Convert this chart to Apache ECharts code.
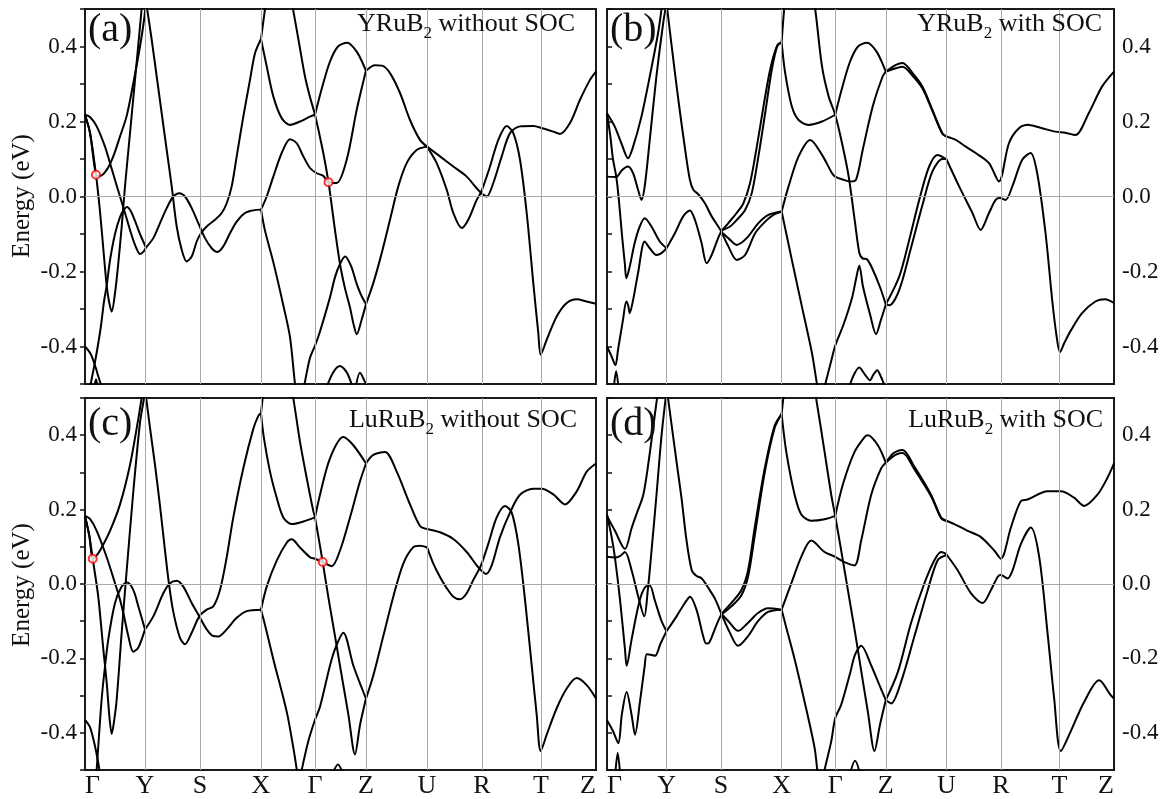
<!DOCTYPE html>
<html><head><meta charset="utf-8">
<script src="https://cdn.jsdelivr.net/npm/echarts@6/dist/echarts.min.js"></script>
<style>html,body{margin:0;padding:0;background:#fff}#c{width:1174px;height:799px}</style>
</head><body><div id="c"></div><script>
// high-symmetry path (k-distance, arbitrary units) and labels
const kTicks = [0,60,115,176,230,281,342,397,456,511];
const kLabels = ['Γ','Y','S','X','Γ','Z','U','R','T','Z'];
const eMin = -0.5, eMax = 0.5, eStep = 0.1;

// (a) YRuB2 without SOC : bands as [k, E(eV)]
const bandsA = [
 [[0,0.218],[5,0.17],[11,0.058],[15,-0.04],[19,-0.16],[21.7,-0.238],[24,-0.28],[26.7,-0.307],[30,-0.258],[33.3,-0.178],[36.7,-0.08],[40,0.027],[45,0.169],[50,0.311],[55,0.453],[58,0.54]],
 [[0,0.218],[5,0.17],[11,0.058],[15,0.055],[21.7,0.071],[28.3,0.107],[35,0.16],[41.7,0.215],[48.3,0.302],[55,0.4],[59,0.47],[61,0.52]],
 [[0,0.218],[5,0.212],[11.7,0.187],[20,0.133],[25,0.089],[30,0.044],[35,0.0],[40,-0.044],[45,-0.089],[50,-0.129],[55,-0.153],[58.5,-0.147],[61,-0.136]],
 [[4.5,-0.52],[5.7,-0.5],[10.7,-0.431],[15.7,-0.35],[19,-0.28],[21.7,-0.238],[25,-0.17],[30,-0.1],[35,-0.055],[39,-0.035],[42,-0.028],[46,-0.04],[50,-0.065],[55,-0.1],[61,-0.136]],
 [[0,-0.4],[5.7,-0.42],[10.7,-0.456],[13.3,-0.48],[15.7,-0.5],[16.5,-0.52]],
 [[8.5,-0.52],[11,-0.487],[13.5,-0.52]],
 [[61,0.52],[66.7,0.418],[71.7,0.32],[76.7,0.222],[81.7,0.124],[86.7,0.027],[91.7,-0.08],[96.7,-0.142],[101.7,-0.173],[106.7,-0.16],[111.7,-0.12],[116,-0.098],[121.7,-0.08],[130,-0.062],[136.7,-0.044],[141.7,-0.018],[146.7,0.027],[151.7,0.107],[158.3,0.213],[165,0.311],[170,0.382],[176,0.42]],
 [[61,-0.136],[68.3,-0.111],[75,-0.071],[81.7,-0.031],[88.3,0.0],[94.3,0.009],[100,0.0],[106.7,-0.031],[113.3,-0.071],[120,-0.111],[126.7,-0.138],[132.3,-0.148],[138.3,-0.133],[145,-0.098],[151.7,-0.067],[160,-0.044],[168.3,-0.037],[176,-0.035]],
 [[176,0.42],[180,0.5],[183,0.56]],
 [[176,0.42],[181.7,0.347],[188.3,0.267],[196.7,0.209],[205,0.191],[215,0.2],[225,0.213],[230,0.218]],
 [[230,0.218],[237,0.29],[245,0.36],[253,0.4],[262,0.41],[272,0.385],[281,0.335]],
 [[281,0.335],[290,0.35],[297,0.349],[305,0.329],[315,0.276],[325,0.204],[335,0.151],[342,0.133]],
 [[203,0.57],[208,0.5],[214,0.41],[220,0.32],[225,0.265],[230,0.218],[238,0.12],[243.5,0.038],[247,-0.03],[250,-0.09],[255,-0.18],[260,-0.245],[265,-0.296],[268.5,-0.34],[271.7,-0.367],[276.5,-0.33],[281,-0.287]],
 [[176,-0.035],[181.7,0.0],[188.3,0.053],[196.7,0.116],[205,0.153],[211.7,0.142],[218.3,0.107],[225,0.076],[231.7,0.062],[238.3,0.055],[243.5,0.038],[251.7,0.036],[261.7,0.098],[271.7,0.231],[281,0.336]],
 [[176,-0.035],[180,-0.091],[188.3,-0.175],[198.3,-0.29],[205,-0.375],[210,-0.5],[211.5,-0.52]],
 [[218,-0.52],[219.5,-0.5],[225,-0.43],[230,-0.398],[235,-0.36],[245,-0.269],[250,-0.215],[255,-0.18],[260,-0.16],[266,-0.185],[271.7,-0.233],[276,-0.262],[281,-0.287]],
 [[240,-0.52],[248,-0.47],[255,-0.452],[262,-0.47],[269,-0.52]],
 [[270,-0.52],[275,-0.47],[280,-0.495],[284,-0.52]],
 [[281,-0.287],[288.3,-0.231],[296.7,-0.151],[305,-0.062],[313.3,0.027],[321.7,0.089],[331.7,0.124],[342,0.133]],
 [[342,0.133],[355,0.107],[368.3,0.08],[381.7,0.053],[391.7,0.022],[396.3,0.009],[401.7,0.0],[408.3,0.036],[416.7,0.107],[425,0.169],[435,0.187],[448.3,0.188],[457.3,0.182],[468.3,0.173],[475,0.167],[485,0.196],[495,0.258],[505,0.311],[511,0.333]],
 [[342,0.133],[351.7,0.089],[361.7,0.018],[368.3,-0.044],[376.7,-0.084],[383.3,-0.062],[391.7,-0.009],[396.3,0.013],[405,0.08],[413.3,0.151],[421.7,0.188],[428.3,0.169],[435,0.098],[441.7,-0.044],[448.3,-0.231],[453.3,-0.364],[455.7,-0.422],[461.7,-0.382],[471.7,-0.32],[481.7,-0.284],[491.7,-0.274],[501.7,-0.28],[511,-0.286]]
];

// (b) YRuB2 with SOC
const bandsB = [
 [[0,0.222],[7.7,0.187],[14.5,0.142],[21.2,0.102],[26.3,0.133],[34.7,0.213],[43.1,0.32],[51.5,0.436],[54.9,0.498],[57,0.54]],
 [[0,0.053],[9.4,0.052],[15,0.07],[21.2,0.08],[26.3,0.062],[31.3,0.018],[34.7,-0.009],[38,0.027],[43.1,0.151],[49.8,0.32],[56.6,0.462],[60,0.516]],
 [[0,0.222],[3.4,0.16],[6,0.1],[9.4,0.052],[12,-0.01],[15,-0.1],[18,-0.18],[19.5,-0.218],[22.9,-0.187],[27.9,-0.124],[33,-0.08],[38,-0.058],[44.8,-0.08],[53.2,-0.12],[60,-0.138]],
 [[0,-0.4],[4.4,-0.425],[8.5,-0.45],[11.1,-0.409],[16.1,-0.329],[19.5,-0.28],[21.5,-0.292],[22.9,-0.311],[26.3,-0.276],[31.3,-0.204],[38,-0.12],[43.1,-0.138],[49.8,-0.156],[54.9,-0.151],[60,-0.138]],
 [[6.5,-0.52],[9.2,-0.465],[12,-0.52]],
 [[60,0.516],[65,0.405],[71.8,0.26],[78.5,0.13],[83.5,0.045],[87,0.018],[92,0.006],[98.7,-0.018],[105.5,-0.053],[114.2,-0.089],[122.3,-0.133],[130.7,-0.169],[139.2,-0.156],[149.3,-0.098],[159.4,-0.067],[167.8,-0.049],[176,-0.04]],
 [[60,-0.138],[68.4,-0.098],[76.8,-0.053],[83.5,-0.037],[88.6,-0.062],[95.3,-0.124],[100.4,-0.178],[105.5,-0.156],[114.2,-0.098],[122.3,-0.071],[130.7,-0.044],[137.5,-0.018],[144.2,0.036],[151,0.133],[157.7,0.24],[164.4,0.338],[171.2,0.4],[176,0.411]],
 [[114.2,-0.092],[122.3,-0.111],[130.7,-0.129],[140.8,-0.111],[152.6,-0.071],[162.7,-0.049],[176,-0.04]],
 [[114.2,-0.092],[124,-0.08],[132.4,-0.058],[139.2,-0.036],[145.9,0.009],[152.6,0.107],[159.4,0.222],[166.1,0.338],[172,0.405],[176,0.411]],
 [[176,0.411],[178.5,0.498],[181,0.56]],
 [[176,0.411],[179.6,0.329],[186.3,0.24],[193.1,0.204],[203.2,0.191],[216.7,0.2],[230,0.218]],
 [[230,0.218],[237,0.29],[245,0.36],[253,0.4],[262,0.41],[272,0.385],[281,0.333]],
 [[205,0.57],[209.9,0.498],[216.7,0.347],[223.4,0.267],[230,0.218],[236.9,0.142],[243.6,0.053],[250,-0.07],[254.3,-0.15],[257.5,-0.165],[261.8,-0.167],[267,-0.19],[275.2,-0.242],[281,-0.288]],
 [[176,-0.04],[183,0.027],[193.1,0.107],[204.9,0.151],[216.7,0.111],[226.8,0.062],[230,0.053],[238,0.045],[245,0.04],[251,0.045],[257.7,0.124],[267.8,0.24],[277.8,0.32],[281,0.333]],
 [[176,-0.04],[180,-0.09],[186.3,-0.169],[196.4,-0.293],[206.6,-0.418],[211.6,-0.5],[213,-0.52]],
 [[218,-0.52],[220,-0.5],[226.8,-0.43],[230,-0.398],[238.6,-0.34],[247,-0.27],[251,-0.22],[254.3,-0.184],[258,-0.24],[265.1,-0.314],[271.2,-0.367],[276,-0.33],[281,-0.288]],
 [[243,-0.52],[248,-0.48],[254.3,-0.456],[260,-0.475],[265,-0.49],[268.5,-0.475],[272.3,-0.463],[276,-0.48],[280,-0.505],[283,-0.52]],
 [[281,0.333],[291.2,0.351],[297.9,0.356],[308,0.329],[318,0.293],[328,0.231],[338,0.169],[342,0.16]],
 [[281,0.333],[291.2,0.342],[297.9,0.346],[308,0.322],[318,0.288],[328,0.228],[338,0.167],[342,0.16]],
 [[281,-0.288],[294.6,-0.213],[304.6,-0.116],[314.7,-0.009],[324.7,0.08],[333.1,0.111],[342,0.1]],
 [[281,-0.288],[284.5,-0.29],[294.6,-0.249],[306.3,-0.138],[318,-0.022],[328,0.067],[338.1,0.1],[342,0.1]],
 [[342,0.16],[351.5,0.151],[361.6,0.133],[371.6,0.116],[385,0.089],[395,0.04],[405.1,0.142],[415.2,0.182],[425.2,0.191],[438.6,0.182],[452,0.173],[462,0.17],[472.1,0.164],[485.5,0.222],[498.9,0.293],[511,0.333]],
 [[342,0.1],[354.9,0.027],[368.3,-0.044],[376.6,-0.089],[385,-0.044],[391.7,-0.009],[396,-0.004],[401.8,-0.009],[408.5,0.027],[418.5,0.098],[426.9,0.116],[433.6,0.062],[442,-0.098],[448.7,-0.276],[453,-0.37],[456.5,-0.415],[461,-0.39],[468,-0.355],[478.8,-0.311],[492.2,-0.28],[502,-0.274],[511,-0.284]]
];

// (c) LuRuB2 without SOC
const bandsC = [
 [[0,0.183],[4.3,0.13],[7.7,0.068],[13.3,-0.035],[18.3,-0.175],[21.7,-0.265],[24.5,-0.36],[26.7,-0.403],[29,-0.37],[31.7,-0.31],[36.7,-0.13],[41.7,0.037],[48.3,0.248],[55,0.434],[59,0.5],[60.5,0.54]],
 [[0,0.183],[4.3,0.13],[7.7,0.068],[11,0.075],[15,0.09],[25,0.143],[35,0.214],[45,0.32],[53.3,0.444],[58,0.525]],
 [[0,0.183],[5,0.175],[11.7,0.143],[21.7,0.072],[30,0.002],[35,-0.042],[39,-0.086],[43.3,-0.14],[48.3,-0.182],[53.3,-0.171],[60,-0.122]],
 [[11,-0.52],[11.7,-0.498],[14.3,-0.396],[16.7,-0.308],[19,-0.246],[23.3,-0.149],[30,-0.051],[36.7,-0.007],[42.3,0.004],[48.3,-0.016],[53.3,-0.06],[60,-0.122]],
 [[0,-0.365],[5,-0.385],[10,-0.436],[12.3,-0.467],[14.3,-0.498],[15,-0.52]],
 [[60,0.525],[65,0.42],[70,0.32],[75,0.21],[80,0.09],[84,0.0],[88.3,-0.075],[95,-0.145],[100,-0.162],[106.7,-0.131],[114.3,-0.087],[121.7,-0.069],[128.3,-0.06],[135,-0.016],[141.7,0.072],[148.3,0.179],[158.3,0.311],[168.3,0.417],[173.3,0.452],[176,0.46]],
 [[60,-0.122],[68.3,-0.087],[78.3,-0.025],[85,0.002],[91.7,0.009],[98.3,-0.007],[106.7,-0.051],[114.3,-0.087],[121.7,-0.122],[128.3,-0.14],[133.3,-0.141],[141.7,-0.122],[151.7,-0.091],[161.7,-0.073],[176,-0.069]],
 [[176,0.46],[177.7,0.5],[180,0.56]],
 [[176,0.46],[178.5,0.4],[185,0.302],[191.7,0.232],[198.3,0.179],[206.7,0.161],[218.3,0.168],[230,0.179]],
 [[230,0.179],[235,0.24],[245,0.338],[258.3,0.395],[268.3,0.373],[281,0.324]],
 [[203,0.57],[208.3,0.499],[215,0.382],[221.7,0.285],[228.3,0.196],[230,0.179],[237.7,0.059],[243,-0.03],[250,-0.14],[255,-0.22],[263.3,-0.35],[270,-0.458],[275,-0.379],[281,-0.308]],
 [[176,-0.069],[181.7,-0.007],[191.7,0.063],[201.7,0.111],[206.7,0.12],[215,0.098],[225,0.072],[230,0.068],[237.7,0.059],[246.7,0.048],[255,0.09],[265,0.179],[275,0.276],[281,0.324]],
 [[176,-0.069],[180,-0.11],[188.3,-0.202],[201.7,-0.343],[208.3,-0.44],[211.7,-0.498],[212.5,-0.52]],
 [[215.5,-0.52],[216.7,-0.5],[223.3,-0.423],[230,-0.365],[235,-0.33],[245,-0.219],[250,-0.175],[258.3,-0.131],[268.3,-0.219],[281,-0.308]],
 [[246,-0.52],[253,-0.485],[259,-0.52]],
 [[281,0.324],[288.3,0.347],[300,0.355],[311.7,0.302],[325,0.214],[335,0.156],[342,0.148]],
 [[281,-0.308],[288.3,-0.246],[298.3,-0.14],[308.3,-0.034],[318.3,0.055],[328.3,0.099],[335,0.103],[342,0.099]],
 [[342,0.148],[355,0.139],[368.3,0.121],[381.7,0.086],[391.7,0.05],[396,0.037],[401,0.027],[406.7,0.05],[415,0.126],[425,0.192],[435,0.24],[448.3,0.256],[456.7,0.256],[468.3,0.241],[480,0.214],[491.7,0.249],[501.7,0.302],[511,0.324]],
 [[342,0.099],[348.3,0.055],[355,0.019],[361.7,-0.011],[368.3,-0.034],[375,-0.041],[381.7,-0.025],[388.3,0.011],[396,0.05],[403.3,0.108],[411.7,0.179],[420,0.21],[426.7,0.192],[433.3,0.108],[440,-0.042],[446.7,-0.219],[451.7,-0.352],[455.7,-0.449],[461.7,-0.405],[471.7,-0.334],[481.7,-0.281],[491.7,-0.253],[501.7,-0.272],[511,-0.308]]
];

// (d) LuRuB2 with SOC
const bandsD = [
 [[0,0.183],[8,0.143],[18.1,0.094],[24.8,0.15],[30,0.19],[36.6,0.24],[42,0.33],[47,0.43],[51,0.51],[53,0.54]],
 [[0,0.073],[8,0.071],[13,0.075],[18.1,0.086],[24.8,0.037],[31.5,-0.034],[37.6,-0.087],[41,-0.02],[44.9,0.09],[49.9,0.24],[55,0.4],[60,0.52]],
 [[0,0.187],[4.7,0.126],[8,0.071],[13.1,-0.042],[18.1,-0.175],[19.8,-0.22],[24.8,-0.149],[31.5,-0.06],[36,-0.02],[41,-0.005],[43.3,-0.005],[48.3,-0.045],[55,-0.1],[60,-0.127]],
 [[0,-0.366],[6,-0.395],[11.4,-0.428],[15,-0.35],[19.8,-0.29],[24.8,-0.352],[28.2,-0.405],[33.2,-0.317],[38,-0.22],[40,-0.189],[44,-0.19],[48.4,-0.193],[54,-0.16],[60,-0.127]],
 [[8,-0.52],[10.8,-0.454],[13.5,-0.52]],
 [[60,0.53],[65,0.43],[70,0.33],[75.3,0.227],[80,0.12],[85.4,0.037],[90,0.022],[95.5,0.015],[102,-0.01],[108.9,-0.04],[115.3,-0.08],[123.7,-0.13],[132.1,-0.166],[142.2,-0.14],[152.2,-0.1],[162.3,-0.075],[176,-0.069]],
 [[115.3,-0.08],[123.7,-0.104],[132.1,-0.126],[142.2,-0.104],[152.2,-0.078],[162.3,-0.065],[176,-0.069]],
 [[60,-0.127],[70.1,-0.087],[78.5,-0.051],[83.7,-0.034],[90.2,-0.069],[96.9,-0.14],[100,-0.16],[103,-0.158],[108.6,-0.122],[115.3,-0.082],[125.4,-0.051],[135.5,-0.016],[142.2,0.037],[148.9,0.152],[159,0.311],[169,0.426],[176,0.457]],
 [[115.3,-0.082],[125.4,-0.06],[135.5,-0.03],[142.2,0.02],[148.9,0.13],[159,0.3],[169,0.42],[176,0.457]],
 [[176,0.457],[177.7,0.5],[180,0.56]],
 [[176,0.457],[180.7,0.355],[189.1,0.24],[195.8,0.187],[205.9,0.17],[219.3,0.174],[230,0.183]],
 [[206,0.57],[210.9,0.497],[219.3,0.355],[226,0.24],[230,0.183],[237,0.075],[243,-0.02],[250,-0.13],[256,-0.23],[263,-0.345],[269.6,-0.449],[275,-0.38],[281,-0.312]],
 [[176,-0.069],[185.8,0.002],[195.8,0.073],[205.9,0.117],[219.3,0.086],[230,0.073],[240,0.058],[249.5,0.05],[256.2,0.117],[266.3,0.24],[276.3,0.311],[281,0.326]],
 [[230,0.183],[238,0.27],[249.5,0.355],[259.6,0.395],[263,0.4],[273,0.373],[281,0.326]],
 [[176,-0.069],[180,-0.11],[189.1,-0.202],[199.2,-0.317],[209.2,-0.44],[211.9,-0.5],[212.5,-0.52]],
 [[218.5,-0.52],[219.3,-0.5],[226,-0.423],[230,-0.361],[236,-0.325],[245,-0.24],[250,-0.19],[256.2,-0.166],[266.3,-0.219],[274.6,-0.272],[281,-0.312]],
 [[244,-0.52],[250,-0.475],[256,-0.52]],
 [[281,0.326],[288,0.35],[293.1,0.358],[298,0.36],[309.9,0.315],[326.6,0.24],[336.7,0.179],[342,0.17]],
 [[281,0.326],[288,0.342],[293.1,0.35],[298,0.352],[309.9,0.308],[326.6,0.236],[336.7,0.177],[342,0.17]],
 [[281,-0.312],[293.1,-0.237],[306.5,-0.104],[319.9,0.002],[330,0.064],[336.7,0.086],[342,0.081]],
 [[281,-0.312],[286.4,-0.321],[296.4,-0.263],[309.9,-0.14],[323.3,-0.016],[333.3,0.064],[342,0.078]],
 [[342,0.17],[350.1,0.161],[363.5,0.143],[376.9,0.126],[390.3,0.09],[397,0.068],[407.1,0.152],[417.2,0.223],[423.9,0.227],[444,0.249],[457.4,0.249],[470.8,0.232],[480.9,0.21],[494.3,0.24],[504.3,0.285],[511,0.324]],
 [[342,0.08],[353.4,0.037],[366.9,-0.025],[378.6,-0.051],[387,-0.016],[393.7,0.019],[397,0.024],[403.7,0.015],[408.8,0.037],[417.2,0.108],[427.2,0.152],[435.6,0.073],[444,-0.131],[450.7,-0.308],[457.4,-0.449],[467.4,-0.396],[480.9,-0.317],[496,-0.259],[507.7,-0.299],[511,-0.308]]
];

// nodal points (red circles)
const circlesA = [[11,0.058],[243.5,0.038]];
const circlesC = [[7.7,0.068],[237.7,0.059]];

const panelTags = ['(a)','(b)','(c)','(d)'];
const compounds = ['YRuB','YRuB','LuRuB','LuRuB'];
const socText = [' without SOC',' with SOC',' without SOC',' with SOC'];

const SERIF = '"Liberation Serif","DejaVu Serif",serif';
const gridPos = [
  {left:85, top:9, width:511, height:375},
  {left:607, top:9, width:507, height:375},
  {left:85, top:398, width:511, height:376},
  {left:607, top:398, width:507, height:376}
];
const panels = [
  {bands:bandsA, circles:circlesA, side:'left', xlab:false},
  {bands:bandsB, circles:[], side:'right', xlab:false},
  {bands:bandsC, circles:circlesC, side:'left', xlab:true},
  {bands:bandsD, circles:[], side:'right', xlab:true}
];

const option = {animation:false, backgroundColor:'#fff', grid:[], xAxis:[], yAxis:[], series:[], graphic:[]};
panels.forEach((p,i)=>{
  option.grid.push(Object.assign({show:true, borderColor:'#1a1a1a', borderWidth:2, backgroundColor:'transparent', containLabel:false}, gridPos[i]));
  option.xAxis.push({gridIndex:i, type:'value', min:kTicks[0], max:kTicks[kTicks.length-1],
    axisLine:{show:false}, axisTick:{show:false}, splitLine:{show:false},
    axisLabel: p.xlab ? {show:true, customValues:kTicks, formatter:(v)=>{const j=kTicks.indexOf(v);return j>=0?kLabels[j]:'';},
      fontSize:26, fontFamily:SERIF, color:'#111', margin:3, alignMinLabel:'left', alignMaxLabel:'right'} : {show:false}});
  option.yAxis.push({gridIndex:i, type:'value', min:eMin, max:eMax, interval:eStep, position:p.side,
    axisLine:{show:false}, splitLine:{show:false},
    axisTick:{show:true, inside:false, length:5, lineStyle:{color:'#111', width:1.5}},
    axisLabel:{show:true, fontSize:23, fontFamily:SERIF, color:'#111', margin:8,
      formatter:(v)=>{const n=Math.round(v*10);return (n%2===0)?(n/10).toFixed(1):'';}}});
  option.series.push({type:'line', xAxisIndex:i, yAxisIndex:i, data:[[kTicks[0],0]], symbol:'none', lineStyle:{width:0}, silent:true, z:1,
    markLine:{silent:true, symbol:['none','none'], label:{show:false}, animation:false,
      lineStyle:{color:'#a8a8a8', width:1, type:'solid'},
      data:[...kTicks.slice(1,-1).map(v=>({xAxis:v})), {yAxis:0}]}});
  p.bands.forEach(b=>option.series.push({type:'line', xAxisIndex:i, yAxisIndex:i, data:b, symbol:'none', smooth:0.3,
    clip:true, silent:true, z:3, lineStyle:{color:'#000', width:2}}));
  if(p.circles.length) option.series.push({type:'scatter', xAxisIndex:i, yAxisIndex:i, data:p.circles, symbol:'circle', symbolSize:8,
    silent:true, z:5, itemStyle:{color:'#fff', borderColor:'#ff0000', borderWidth:2}});
});

// panel tags
const tagPos = [[88,10],[610,10],[88,404],[610,404]];
panelTags.forEach((t,i)=>option.graphic.push({type:'text', x:tagPos[i][0], y:tagPos[i][1], silent:true, z:10,
  style:{text:t, font:'40px '+SERIF, fill:'#111', textAlign:'left', textVerticalAlign:'top'}}));
// titles with subscript
const titlePos = [[575,6],[1102,6],[577,402],[1103,402]];
compounds.forEach((c,i)=>option.graphic.push({type:'text', x:titlePos[i][0], y:titlePos[i][1], silent:true, z:10,
  style:{text:'{n|'+c+'}{s|2}{n|'+socText[i]+'}', textAlign:'right', textVerticalAlign:'top', fill:'#111',
    rich:{n:{fontSize:26, fontFamily:SERIF, lineHeight:36, verticalAlign:'middle', fill:'#111'},
          s:{fontSize:17, fontFamily:SERIF, lineHeight:20, verticalAlign:'bottom', fill:'#111'}}}}));
// energy axis names
[[22,196],[22,585]].forEach(pt=>option.graphic.push({type:'text', x:pt[0], y:pt[1], rotation:Math.PI/2, silent:true, z:10,
  style:{text:'Energy (eV)', font:'25px '+SERIF, fill:'#111', textAlign:'center', textVerticalAlign:'middle'}}));

const chart = echarts.init(document.getElementById('c'), null, {renderer:'canvas'});
chart.setOption(option);
</script></body></html>
